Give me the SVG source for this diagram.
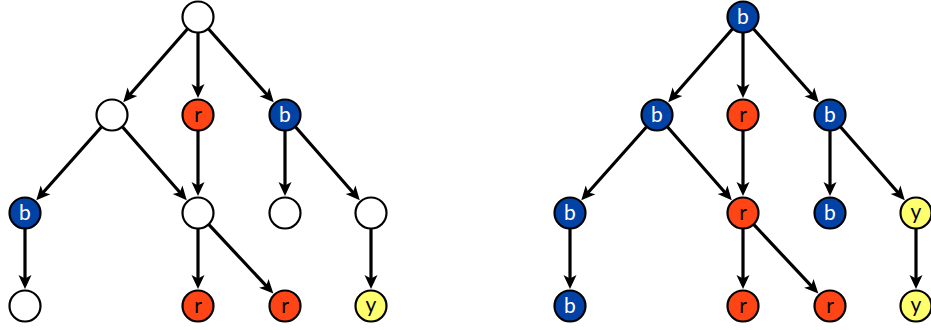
<svg xmlns="http://www.w3.org/2000/svg" width="931" height="330" viewBox="0 0 931 330">
<style>
.n{stroke:#000;stroke-width:2.2}
.w{fill:#fff}
.bl{fill:#0042A6}
.rd{fill:#FF4516}
.ye{fill:#FFFF6E}
.e{stroke:#000;stroke-width:3.2;fill:none;marker-end:url(#ah)}
text{font-family:Lato,"Open Sans","Liberation Sans",sans-serif;font-size:21px;text-anchor:middle}
.tw{fill:#fff}
.tk{fill:#000}
</style>
<defs>
<marker id="ah" viewBox="-7 -7 16 14" refX="0" refY="0" markerWidth="16" markerHeight="14" orient="auto" markerUnits="userSpaceOnUse">
<path d="M8,0 L-6,-6.5 L-2.5,0 L-6,6.5 Z" fill="#000"/>
</marker>
</defs>
<g id="connectors">
<line class="e" x1="187.4" y1="29" x2="128.5" y2="96.2"/>
<line class="e" x1="198" y1="33" x2="198" y2="90"/>
<line class="e" x1="208.6" y1="29" x2="268.4" y2="96.3"/>
<line class="e" x1="101.4" y1="127" x2="41.6" y2="194.3"/>
<line class="e" x1="122.6" y1="127" x2="181.5" y2="194.2"/>
<line class="e" x1="198" y1="131" x2="198" y2="188"/>
<line class="e" x1="285" y1="131" x2="285" y2="188"/>
<line class="e" x1="295.6" y1="127" x2="354.5" y2="194.2"/>
<line class="e" x1="25" y1="229" x2="25" y2="281"/>
<line class="e" x1="198" y1="229" x2="198" y2="281"/>
<line class="e" x1="208.9" y1="224.7" x2="267.9" y2="287.7"/>
<line class="e" x1="371" y1="229" x2="371" y2="281"/>
<line class="e" x1="732.4" y1="29" x2="673.5" y2="96.2"/>
<line class="e" x1="743" y1="33" x2="743" y2="90"/>
<line class="e" x1="753.6" y1="29" x2="813.4" y2="96.3"/>
<line class="e" x1="646.4" y1="127" x2="586.6" y2="194.3"/>
<line class="e" x1="667.6" y1="127" x2="726.5" y2="194.2"/>
<line class="e" x1="743" y1="131" x2="743" y2="188"/>
<line class="e" x1="830" y1="131" x2="830" y2="188"/>
<line class="e" x1="840.6" y1="127" x2="899.5" y2="194.2"/>
<line class="e" x1="570" y1="229" x2="570" y2="281"/>
<line class="e" x1="743" y1="229" x2="743" y2="281"/>
<line class="e" x1="753.9" y1="224.7" x2="812.9" y2="287.7"/>
<line class="e" x1="916" y1="229" x2="916" y2="281"/>
</g>
<g id="L-root"><circle class="n w" cx="198" cy="17" r="15.5"/></g>
<g id="L-a"><circle class="n w" cx="112" cy="115" r="15.5"/></g>
<g id="L-r1"><circle class="n rd" cx="198" cy="115" r="15.5"/><text class="tk" x="198" y="121.5">r</text></g>
<g id="L-b1"><circle class="n bl" cx="285" cy="115" r="15.5"/><text class="tw" x="285" y="122">b</text></g>
<g id="L-b2"><circle class="n bl" cx="25" cy="213" r="15.5"/><text class="tw" x="25" y="220">b</text></g>
<g id="L-c"><circle class="n w" cx="198" cy="213" r="15.5"/></g>
<g id="L-d"><circle class="n w" cx="285" cy="213" r="15.5"/></g>
<g id="L-e"><circle class="n w" cx="371" cy="213" r="15.5"/></g>
<g id="L-f"><circle class="n w" cx="25" cy="306" r="15.5"/></g>
<g id="L-r2"><circle class="n rd" cx="198" cy="306" r="15.5"/><text class="tk" x="198" y="312.5">r</text></g>
<g id="L-r3"><circle class="n rd" cx="285" cy="306" r="15.5"/><text class="tk" x="285" y="312.5">r</text></g>
<g id="L-y1"><circle class="n ye" cx="371" cy="306" r="15.5"/><text class="tk" x="371" y="311.5">y</text></g>
<g id="R-root"><circle class="n bl" cx="743" cy="17" r="15.5"/><text class="tw" x="743" y="24">b</text></g>
<g id="R-a"><circle class="n bl" cx="657" cy="115" r="15.5"/><text class="tw" x="657" y="122">b</text></g>
<g id="R-r1"><circle class="n rd" cx="743" cy="115" r="15.5"/><text class="tk" x="743" y="121.5">r</text></g>
<g id="R-b1"><circle class="n bl" cx="830" cy="115" r="15.5"/><text class="tw" x="830" y="122">b</text></g>
<g id="R-b2"><circle class="n bl" cx="570" cy="213" r="15.5"/><text class="tw" x="570" y="220">b</text></g>
<g id="R-c"><circle class="n rd" cx="743" cy="213" r="15.5"/><text class="tk" x="743" y="219.5">r</text></g>
<g id="R-d"><circle class="n bl" cx="830" cy="213" r="15.5"/><text class="tw" x="830" y="220">b</text></g>
<g id="R-e"><circle class="n ye" cx="916" cy="213" r="15.5"/><text class="tk" x="916" y="218.5">y</text></g>
<g id="R-f"><circle class="n bl" cx="570" cy="306" r="15.5"/><text class="tw" x="570" y="313">b</text></g>
<g id="R-r2"><circle class="n rd" cx="743" cy="306" r="15.5"/><text class="tk" x="743" y="312.5">r</text></g>
<g id="R-r3"><circle class="n rd" cx="830" cy="306" r="15.5"/><text class="tk" x="830" y="312.5">r</text></g>
<g id="R-y1"><circle class="n ye" cx="916" cy="306" r="15.5"/><text class="tk" x="916" y="311.5">y</text></g>
</svg>
